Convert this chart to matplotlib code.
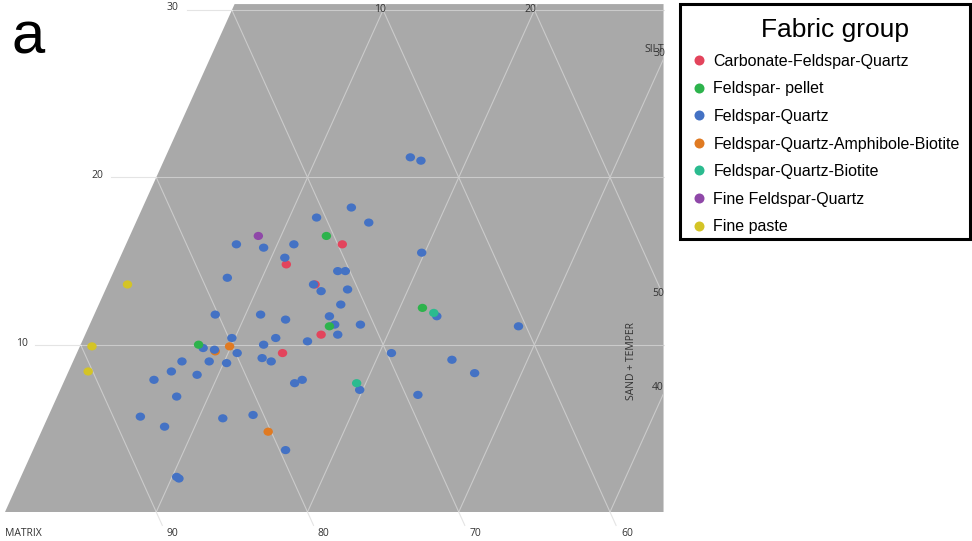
import numpy as np
import matplotlib
matplotlib.use("Agg")
import matplotlib.pyplot as plt
from matplotlib.patches import Polygon, Rectangle
from matplotlib.path import Path
import matplotlib.transforms as mtransforms

W, H = 972, 541

# Fabric groups and their marker colours
group_names = [
    "Carbonate-Feldspar-Quartz",
    "Feldspar- pellet",
    "Feldspar-Quartz",
    "Feldspar-Quartz-Amphibole-Biotite",
    "Feldspar-Quartz-Biotite",
    "Fine Feldspar-Quartz",
    "Fine paste",
]
group_colors = ["#e3445c", "#2db34c", "#4472c4", "#e07a22", "#2bbb8f", "#8f48a8", "#d4c426"]

# Samples as (matrix %, silt %); sand + temper is the remainder to 100 %
carbonate_fq = [(74.0, 14.8), (69.7, 16.0), (72.7, 13.6), (73.8, 10.6), (76.9, 9.5)]
feldspar_pellet = [(70.5, 16.5), (66.3, 12.2), (73.0, 11.1), (82.2, 10.0)]
feldspar_quartz = [
    (62.6, 21.2), (62.0, 21.0), (68.0, 18.2), (70.6, 17.6), (67.3, 17.3),
    (72.9, 16.0), (76.7, 16.0), (75.0, 15.8), (73.9, 15.2), (64.7, 15.5),
    (78.3, 14.0), (70.8, 14.4), (70.3, 14.4), (72.8, 13.6), (72.5, 13.2),
    (70.7, 13.3), (71.6, 12.4), (80.2, 11.8), (77.2, 11.8), (75.7, 11.5),
    (72.7, 11.7), (65.6, 11.7), (60.5, 11.1), (72.6, 11.2), (70.9, 11.2),
    (72.7, 10.6), (74.9, 10.2), (76.9, 10.4), (77.9, 10.0), (79.8, 10.4),
    (82.0, 9.8), (81.3, 9.7), (79.9, 9.5), (78.4, 9.2), (77.9, 9.0),
    (83.8, 9.0), (82.0, 9.0), (80.9, 8.9), (69.7, 9.5), (65.9, 9.1),
    (64.8, 8.3), (84.8, 8.4), (83.2, 8.2), (86.2, 7.9), (77.0, 7.7),
    (76.4, 7.9), (72.9, 7.3), (69.2, 7.0), (85.2, 6.9), (88.2, 5.7),
    (86.9, 5.1), (82.8, 5.6), (80.7, 5.8), (79.6, 3.7), (87.6, 2.1),
    (87.5, 2.0),
]
feldspar_quartz_amph_bio = [(81.3, 9.6), (80.2, 9.9), (80.2, 4.8)]
feldspar_quartz_bio = [(65.7, 11.9), (72.9, 7.7)]
fine_feldspar_quartz = [(75.0, 16.5)]
fine_paste = [(85.1, 13.6), (89.3, 9.9), (90.3, 8.4)]

group_samples = [carbonate_fq, feldspar_pellet, feldspar_quartz, feldspar_quartz_amph_bio,
                 feldspar_quartz_bio, fine_feldspar_quartz, fine_paste]
group_z = [2, 4, 3, 2.5, 4, 4, 4]

# Axis ticks
silt_ticks = [10, 20, 30]
matrix_ticks = [90, 80, 70, 60]
sand_top_ticks = [10, 20]


def project(matrix, silt):
    """Ternary (matrix, silt, sand) -> planar x, y (silt is the vertical axis)."""
    matrix = np.asarray(matrix, float)
    silt = np.asarray(silt, float)
    sand = 100.0 - matrix - silt
    return sand + silt / 2.0, silt


fig = plt.figure(figsize=(W / 100, H / 100), dpi=100)
fig.patch.set_facecolor("white")
ax = fig.add_axes([0, 0, 1, 1])
ax.set_xlim(-5 / 15.125, 967 / 15.125)
ax.set_ylim(-29 / 16.73, 512 / 16.73)
ax.axis("off")

# pixel transform (origin top-left) for layout of annotations
fpx = mtransforms.Affine2D().scale(1 / W, -1 / H).translate(0, 1) + fig.transFigure

# visible window of the ternary diagram
silt_top = 30.36
x_right = 43.54
region = Polygon([(0, 0), (silt_top / 2, silt_top), (x_right, silt_top), (x_right, 0)],
                 closed=True, facecolor="#a9a9a9", edgecolor="none", zorder=0)
ax.add_patch(region)

grid_kw = dict(color="#cbcbcb", lw=0.8, zorder=1, solid_capstyle="butt")
t = np.linspace(0, silt_top, 200)
for s in [10, 20, 30, 40]:
    ln, = ax.plot(s + t / 2, t, **grid_kw)
    ln.set_clip_path(region)
for m in [90, 80, 70, 60, 50]:
    ln, = ax.plot((100 - m) - t / 2, t, **grid_kw)
    ln.set_clip_path(region)
for v in silt_ticks:
    ax.plot([v / 2, x_right], [v, v], **grid_kw)

# faint tick marks outside the diagram
tick_kw = dict(color="#e4e4e4", lw=0.8, zorder=1)
for v in silt_ticks:
    ax.plot([v / 2 - 3.0, v / 2], [v, v], **tick_kw)
for m in matrix_ticks:
    tt = np.array([0, -0.8])
    ax.plot((100 - m) - tt / 2, tt, **tick_kw)

# samples
circ = Path.unit_circle()
ellipse = Path(circ.vertices * np.array([1.15, 1.0]), circ.codes)
for name, samples, col, z in zip(group_names, group_samples, group_colors, group_z):
    m = [p[0] for p in samples]
    s = [p[1] for p in samples]
    x, y = project(m, s)
    ax.scatter(x, y, s=46, marker=ellipse, color=col, edgecolors="none", zorder=z)

# axis labels
lab_kw = dict(fontsize=7.5, color="#333333", family="Open Sans", transform=fpx)
for txt, x, y in [("30", 172, 7), ("20", 97, 175), ("10", 22, 343)]:
    fig.text(x, y, txt, ha="center", va="center", **lab_kw)
for txt, x in zip([str(v) for v in sand_top_ticks], [380, 530.5]):
    fig.text(x, 9, txt, ha="center", va="center", **lab_kw)
fig.text(5, 533, "MATRIX", ha="left", va="center", **lab_kw)
for txt, x in zip([str(v) for v in matrix_ticks], [172, 323, 475, 627]):
    fig.text(x, 533, txt, ha="center", va="center", **lab_kw)
fig.text(664, 50, "SILT", ha="right", va="center", **lab_kw)
fig.text(665, 54, "30", ha="right", va="center", **lab_kw)
fig.text(664, 294, "50", ha="right", va="center", **lab_kw)
fig.text(664, 388, "40", ha="right", va="center", **lab_kw)
fig.text(631, 361, "SAND + TEMPER", ha="center", va="center", rotation=90, **lab_kw)

# panel letter
fig.text(11, 53, "a", ha="left", va="baseline", fontsize=43,
         family="Liberation Sans", color="black", transform=fpx)

# legend box
fig.patches.append(Rectangle((680, 4), 290, 235, transform=fpx, facecolor="white",
                             edgecolor="black", lw=2.2, zorder=5))
fig.text(835, 37, "Fabric group", ha="center", va="baseline", fontsize=19,
         family="Liberation Sans", color="black", transform=fpx, zorder=6)
for i, (name, col) in enumerate(zip(group_names, group_colors)):
    yc = 60 + 27.6 * i
    fig.add_artist(plt.Line2D([699], [yc], transform=fpx, marker="o", markersize=7.2,
                              color=col, markeredgewidth=0, linestyle="none", zorder=6))
    fig.text(713.3, yc + 5.7, name, ha="left", va="baseline", fontsize=11.5,
             family="Liberation Sans", color="black", transform=fpx, zorder=6)

fig.savefig("out.png", dpi=100, facecolor="white")
